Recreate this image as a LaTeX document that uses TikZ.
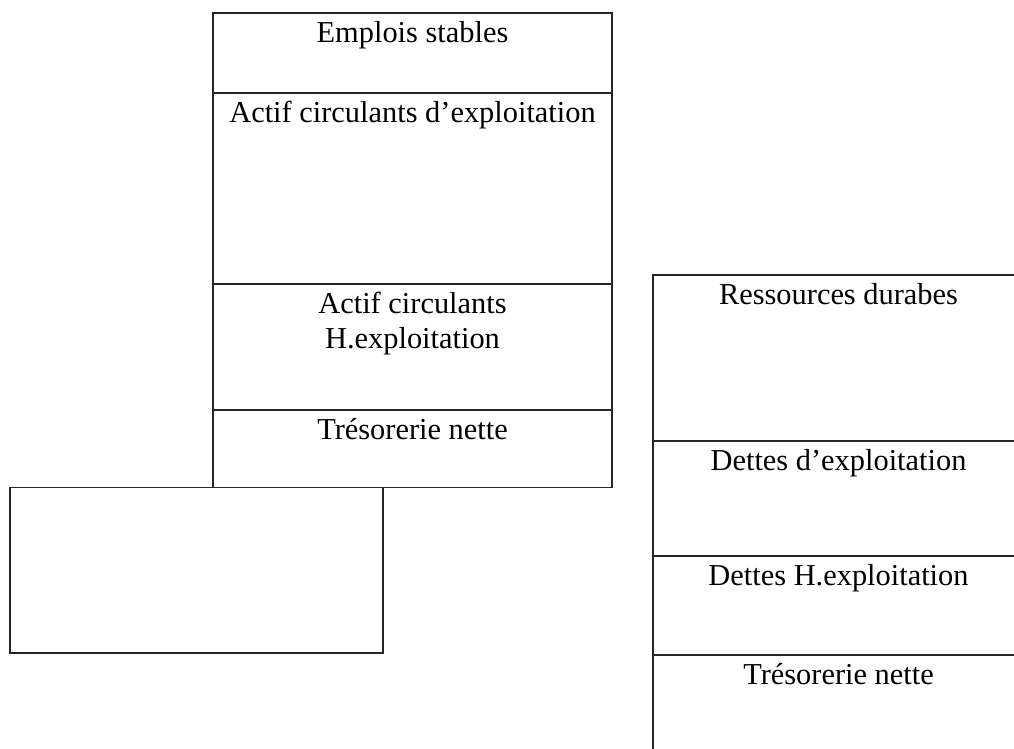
\documentclass[tikz,border=0pt]{standalone}
\usepackage{fontspec}
\setmainfont{Liberation Serif}
\begin{document}
\begin{tikzpicture}[x=1pt,y=-1pt,line width=1.2pt,draw=black!85,
    lbl/.style={anchor=base,align=center,inner sep=0pt,font=\fontsize{30.4}{35}\selectfont}]
            \def\xg{213}
            \def\xd{612}
            \def\xr{653}
            \def\xmax{1014}
            \def\ymax{749}
            \def\d{29.5}
            \clip (0,0) rectangle (\xmax,\ymax);

            % emplois
            \draw (\xg,13) rectangle (\xd,487.5);
            \foreach \y in {93,284,410} \draw (\xg,\y)--(\xd,\y);
            \node[lbl] (emplois) at (412.5,13+\d) {Emplois stables};
            \node[lbl] (actifexpl) at (412.5,93+\d) {Actif circulants d’exploitation};
            \node[lbl] (actifhexpl) at (412.5,284+35+\d) {Actif circulants\\H.exploitation};
            \node[lbl] (tresoactif) at (412.5,410+\d) {Trésorerie nette};

            \draw (10,487.5) rectangle (383,653);

            % ressources
            \draw (\xmax+10,275)--(\xr,275)--(\xr,\ymax+10);
            \foreach \y in {441,556,655} \draw (\xr,\y)--(\xmax+10,\y);
            \node[lbl] (ressources) at (838.5,275+\d) {Ressources durabes};
            \node[lbl] (dettesexpl) at (838.5,441+\d) {Dettes d’exploitation};
            \node[lbl] (detteshexpl) at (838.5,556+\d) {Dettes H.exploitation};
            \node[lbl] (tresopassif) at (838.5,655+\d) {Trésorerie nette};
        \end{tikzpicture}
\end{document}
